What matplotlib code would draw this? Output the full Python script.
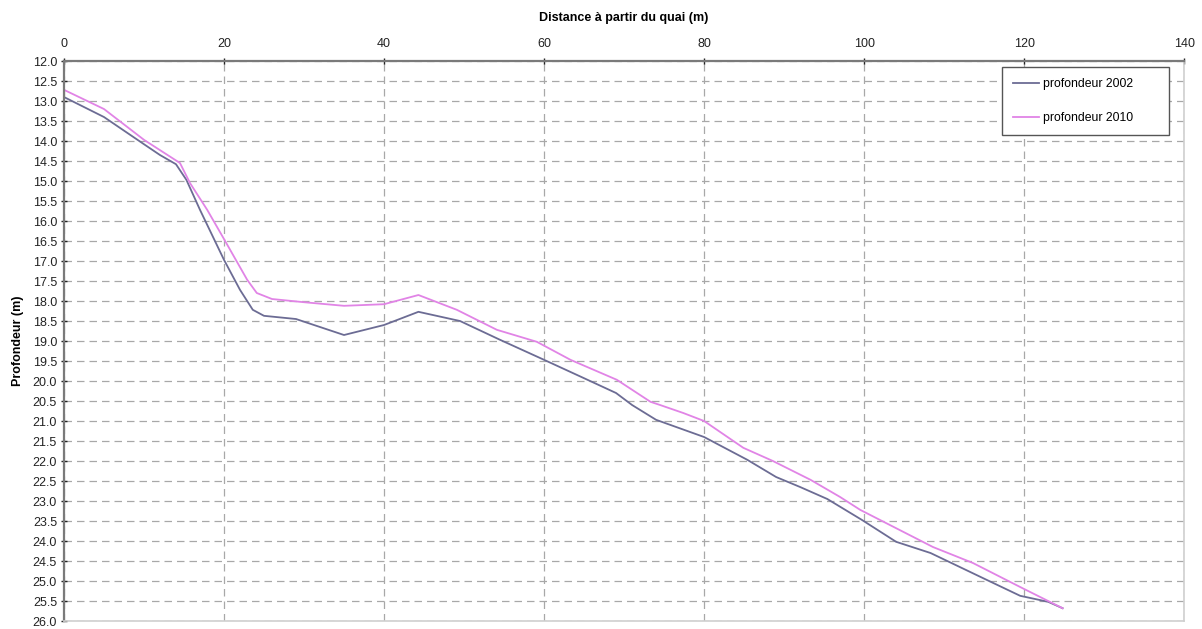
import numpy as np
import matplotlib.pyplot as plt

# profils de profondeur
dist_2002 = [0, 5, 10, 12, 14, 15.3, 17, 20, 22, 23.6, 25, 29, 35, 40, 44.3, 49.5, 54.5,
             60, 65, 69, 71, 74, 80, 85.4, 89, 92, 95.4, 99.7, 104, 108.3, 115.3,
             119.5, 123, 124.8]
prof_2002 = [12.9, 13.4, 14.08, 14.35, 14.58, 14.97, 15.72, 16.97, 17.72, 18.22, 18.37,
             18.45, 18.85, 18.6, 18.27, 18.5, 18.97, 19.47, 19.93, 20.3, 20.6, 20.97,
             21.4, 21.97, 22.4, 22.65, 22.95, 23.47, 24.02, 24.3, 24.97, 25.37, 25.52,
             25.68]

dist_2010 = [0, 5, 10, 14.5, 15.75, 17.9, 20, 22.9, 24.1, 26, 30, 35, 40, 44.3, 49.1,
             54.1, 59.1, 63.3, 69.1, 73.3, 74.5, 77.4, 80, 84.9, 88.6, 93.3, 97,
             99.5, 108.6, 113.6, 119.5, 124.8]
prof_2010 = [12.72, 13.2, 13.97, 14.55, 15.05, 15.72, 16.45, 17.47, 17.8, 17.95, 18.03,
             18.12, 18.08, 17.85, 18.22, 18.72, 19.02, 19.47, 19.97, 20.52, 20.6, 20.8,
             21.0, 21.67, 22.0, 22.47, 22.9, 23.22, 24.15, 24.55, 25.15, 25.68]

plt.rcParams['font.family'] = ['Liberation Sans', 'DejaVu Sans']

fig = plt.figure(figsize=(12.02, 6.29), dpi=100)
ax = fig.add_axes([0.0532, 0.0127, 0.932, 0.8903])

ax.plot(dist_2002, prof_2002, color='#6c6c94', lw=1.3, label='profondeur 2002')
ax.plot(dist_2010, prof_2010, color='#e184e6', lw=1.3, label='profondeur 2010')

ax.set_xlim(0, 140)
ax.set_ylim(26, 12)
ax.set_xticks(np.arange(0, 141, 20))
ax.set_yticks(np.arange(12, 26.01, 0.5))
ax.yaxis.set_major_formatter(plt.FormatStrFormatter('%.1f'))

ax.xaxis.tick_top()
ax.xaxis.set_label_position('top')
ax.set_xlabel('Distance à partir du quai (m)', fontsize=9, fontweight='bold', labelpad=12)
ax.set_ylabel('Profondeur (m)', fontsize=9, fontweight='bold', labelpad=6)
ax.tick_params(axis='both', labelsize=9, colors='#222222', length=4, width=1,
               direction='inout', pad=3)
ax.tick_params(axis='x', pad=6)

ax.grid(True, color='#a8a8a8', linestyle=(0, (6, 4)), linewidth=0.9)
ax.set_axisbelow(True)

for side in ['left', 'top']:
    ax.spines[side].set_color('#7a7a7a')
    ax.spines[side].set_linewidth(1.6)
for side in ['right', 'bottom']:
    ax.spines[side].set_color('#cfcfcf')
    ax.spines[side].set_linewidth(1.2)

leg = ax.legend(loc='upper left', bbox_to_anchor=(0.837, 0.989, 0.149, 0.0),
                mode='expand', fontsize=8.8,
                fancybox=False, framealpha=1, edgecolor='#555555',
                labelspacing=1.8, handlelength=2.2, handletextpad=0.25,
                borderpad=0.9, borderaxespad=0)
leg.get_frame().set_linewidth(1.0)

fig.savefig('out.png', dpi=100)
